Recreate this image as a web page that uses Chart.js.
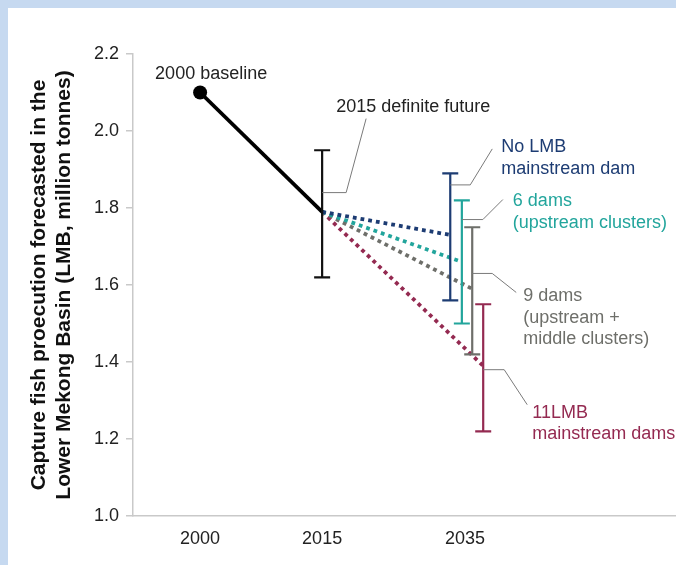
<!DOCTYPE html>
<html>
<head>
<meta charset="utf-8">
<script src="https://cdn.jsdelivr.net/npm/chart.js@4.4.1/dist/chart.umd.min.js"></script>
<style>
  html, body { margin: 0; padding: 0; background: #c6d9f0; }
  #wrap { position: relative; width: 676px; height: 565px; overflow: hidden; }
  #panel { position: absolute; left: 8px; top: 8px; right: -20px; bottom: -20px; background: #fff; }
  #fish { position: absolute; left: 0; top: 0; }
</style>
</head>
<body>
<div id="wrap">
  <div id="panel"></div>
  <canvas id="fish" width="676" height="565"></canvas>
</div>
<script>
// years on the x axis and the slot each one sits in
const years = ['2000', '2015', '2035'];
const yearSlots = [1, 2, 3.17];

// million tonnes
const baseline2000 = 2.10;
const definite2015 = 1.79;
const definiteLow = 1.62;
const definiteHigh = 1.95;

const scenarioNames = ['No LMB mainstream dam', '6 dams (upstream clusters)', '9 dams (upstream + middle clusters)', '11LMB mainstream dams'];
const scenarioMid = [1.73, 1.66, 1.59, 1.39];
const scenarioLow = [1.56, 1.50, 1.42, 1.22];
const scenarioHigh = [1.89, 1.82, 1.75, 1.55];
const scenarioSlots = [3.05, 3.145, 3.23, 3.32];
const scenarioColors = ['#1d3c73', '#22a59c', '#6e6f6a', '#942a51'];

const FONT = '"Liberation Sans", Arial, sans-serif';

// callouts: anchor on a bar (slot, value), leader path in px from anchor, text lines in px from anchor
const callouts = [
  { slot: 2, value: 1.84, path: [[0, 0], [24, 0], [44, -74]], at: [14, -81], lines: ['2015 definite future'], color: '#222', lead: 20 },
  { slot: scenarioSlots[0], value: 1.86, path: [[0, 0], [20, 0], [42, -36]], at: [51, -33], lines: ['No LMB', 'mainstream dam'], color: scenarioColors[0], lead: 22 },
  { slot: scenarioSlots[1], value: 1.77, path: [[0, 0], [21, 0], [41, -20]], at: [51, -14], lines: ['6 dams', '(upstream clusters)'], color: scenarioColors[1], lead: 22 },
  { slot: scenarioSlots[2], value: 1.63, path: [[0, 0], [20, 0], [44, 19]], at: [51, 28], lines: ['9 dams', '(upstream +', 'middle clusters)'], color: scenarioColors[2], lead: 21.5 },
  { slot: scenarioSlots[3], value: 1.38, path: [[0, 0], [21, 0], [44, 35]], at: [49, 48], lines: ['11LMB', 'mainstream dams'], color: scenarioColors[3], lead: 21 }
];

const errorBars = [{ slot: 2, low: definiteLow, high: definiteHigh, color: '#111' }].concat(
  scenarioSlots.map((s, i) => ({ slot: s, low: scenarioLow[i], high: scenarioHigh[i], color: scenarioColors[i] }))
);

const datasets = [{
  data: [{ x: yearSlots[0], y: baseline2000 }, { x: yearSlots[1], y: definite2015 }],
  borderColor: '#000',
  borderWidth: 3.8,
  pointRadius: [7, 0],
  pointBackgroundColor: '#000',
  pointBorderWidth: 0,
  order: 1
}];
scenarioSlots.forEach((s, i) => {
  datasets.push({
    data: [{ x: yearSlots[1], y: definite2015 }, { x: s, y: scenarioMid[i] }],
    borderColor: scenarioColors[i],
    borderWidth: 3.8,
    borderDash: [3.8, 4],
    pointRadius: 0,
    order: 2
  });
});

const errorBarPlugin = {
  id: 'errorBars',
  afterDatasetsDraw(chart) {
    const { ctx, scales: { x, y } } = chart;
    ctx.save();
    ctx.lineWidth = 2.2;
    errorBars.forEach(b => {
      const px = x.getPixelForValue(b.slot);
      const top = y.getPixelForValue(b.high);
      const bot = y.getPixelForValue(b.low);
      ctx.strokeStyle = b.color;
      ctx.beginPath();
      ctx.moveTo(px, top); ctx.lineTo(px, bot);
      ctx.moveTo(px - 8, top); ctx.lineTo(px + 8, top);
      ctx.moveTo(px - 8, bot); ctx.lineTo(px + 8, bot);
      ctx.stroke();
    });
    ctx.restore();
  }
};

const calloutPlugin = {
  id: 'callouts',
  afterDraw(chart) {
    const { ctx, scales: { x, y } } = chart;
    ctx.save();
    ctx.font = '18px ' + FONT;
    ctx.textBaseline = 'alphabetic';
    ctx.textAlign = 'left';

    // baseline point label
    ctx.fillStyle = '#222';
    ctx.fillText('2000 baseline', x.getPixelForValue(yearSlots[0]) - 45, y.getPixelForValue(baseline2000) - 14);

    callouts.forEach(c => {
      const ax = x.getPixelForValue(c.slot);
      const ay = y.getPixelForValue(c.value);
      ctx.strokeStyle = '#7a7a7a';
      ctx.lineWidth = 1;
      ctx.beginPath();
      c.path.forEach((p, i) => {
        if (i === 0) ctx.moveTo(ax + p[0], ay + p[1]);
        else ctx.lineTo(ax + p[0], ay + p[1]);
      });
      ctx.stroke();
      ctx.fillStyle = c.color;
      c.lines.forEach((t, i) => ctx.fillText(t, ax + c.at[0], ay + c.at[1] + i * c.lead));
    });

    // y axis title, two lines
    ctx.fillStyle = '#111';
    ctx.font = 'bold 21px ' + FONT;
    ctx.textAlign = 'center';
    ctx.textBaseline = 'middle';
    const midY = (chart.chartArea.top + chart.chartArea.bottom) / 2;
    ctx.translate(39, midY);
    ctx.rotate(-Math.PI / 2);
    ctx.fillText('Capture fish proecution forecasted in the', 0, 0);
    ctx.fillText('Lower Mekong Basin (LMB, million tonnes)', 0, 25);
    ctx.restore();
  }
};

new Chart(document.getElementById('fish'), {
  type: 'line',
  data: { datasets: datasets },
  options: {
    responsive: false,
    animation: false,
    devicePixelRatio: 1,
    layout: { autoPadding: false, padding: { top: 54, right: 0, bottom: 0, left: 0 } },
    plugins: { legend: { display: false }, tooltip: { enabled: false } },
    scales: {
      x: {
        type: 'linear',
        min: 0.45,
        max: 4.9,
        afterBuildTicks: scale => { scale.ticks = yearSlots.map(v => ({ value: v })); },
        afterFit: scale => { scale.height = 49; scale.paddingRight = 0; },
        ticks: {
          callback: (v, i) => years[i],
          color: '#222',
          font: { family: FONT, size: 18 },
          padding: 12,
          maxRotation: 0
        },
        grid: { display: false, drawTicks: false },
        border: { color: '#c9c9c9', width: 1.5 }
      },
      y: {
        min: 1.0,
        max: 2.2,
        afterFit: scale => { scale.width = 133; },
        ticks: {
          stepSize: 0.2,
          callback: v => v.toFixed(1),
          color: '#222',
          font: { family: FONT, size: 18 },
          padding: 7
        },
        grid: { drawOnChartArea: false, drawTicks: true, tickLength: 7, color: '#c9c9c9', lineWidth: 1.5 },
        border: { color: '#c9c9c9', width: 1.5 }
      }
    }
  },
  plugins: [errorBarPlugin, calloutPlugin]
});
</script>
</body>
</html>
